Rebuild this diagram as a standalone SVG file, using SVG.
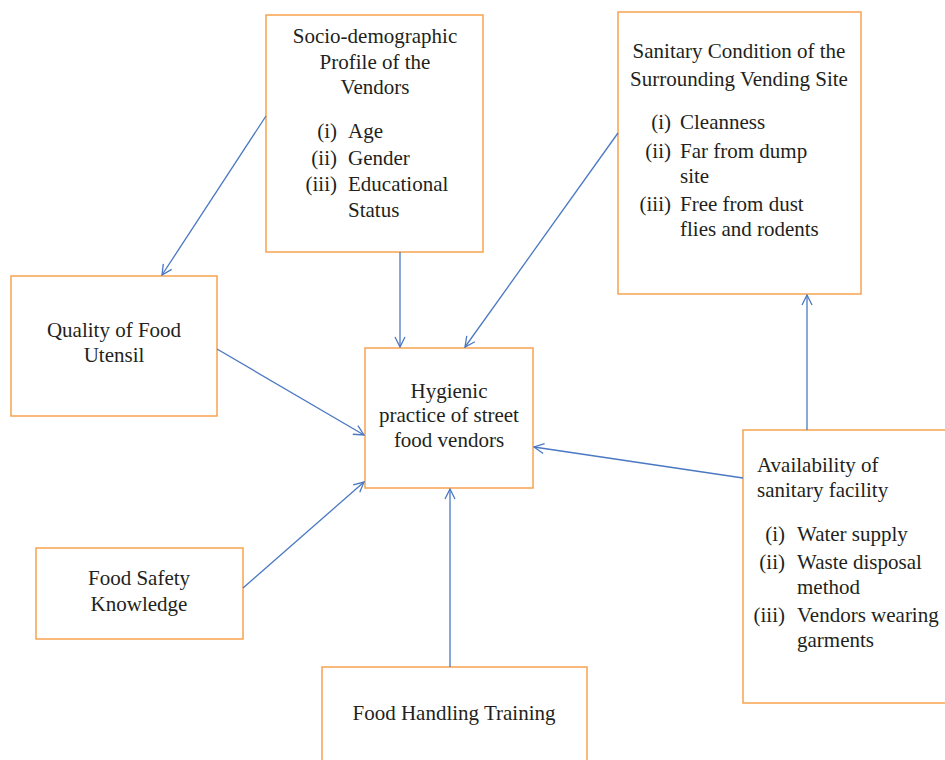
<svg xmlns="http://www.w3.org/2000/svg" width="945" height="760" viewBox="0 0 945 760">
<style>
.box{fill:#fff;stroke:#F7A350;stroke-width:1.5}
text{font-family:"Liberation Serif","DejaVu Serif",serif;font-size:21px;fill:#231f20}
.c{text-anchor:middle}
.r{text-anchor:end}
.con{stroke:#4A78C2;stroke-width:1.3;fill:none}
</style>
<defs>
<marker id="ah" viewBox="0 0 12 12" refX="11" refY="6" markerWidth="12" markerHeight="12" markerUnits="userSpaceOnUse" orient="auto">
<path d="M1,1 L11,6 L1,11" fill="none" stroke="#4A78C2" stroke-width="1.3"/>
</marker>
</defs>
<rect width="945" height="760" fill="#fff"/>
<g id="socio">
<rect class="box" x="266" y="15" width="217" height="237"/>
<text class="c" x="375" y="43">Socio-demographic</text>
<text class="c" x="375" y="69">Profile of the</text>
<text class="c" x="375" y="94">Vendors</text>
<text class="r" x="337" y="138">(i)</text><text x="348" y="138">Age</text>
<text class="r" x="337" y="165">(ii)</text><text x="348" y="165">Gender</text>
<text class="r" x="337" y="191">(iii)</text><text x="348" y="191">Educational</text>
<text x="348" y="217">Status</text>
</g>
<g id="sanitary">
<rect class="box" x="618" y="12" width="243" height="282"/>
<text class="c" x="739" y="58">Sanitary Condition of the</text>
<text class="c" x="739" y="86">Surrounding Vending Site</text>
<text class="r" x="671" y="129">(i)</text><text x="680" y="129">Cleanness</text>
<text class="r" x="671" y="158">(ii)</text><text x="680" y="158">Far from dump</text>
<text x="680" y="183">site</text>
<text class="r" x="671" y="211">(iii)</text><text x="680" y="211">Free from dust</text>
<text x="680" y="236">flies and rodents</text>
</g>
<g id="quality">
<rect class="box" x="11" y="276" width="206" height="140"/>
<text class="c" x="114" y="337">Quality of Food</text>
<text class="c" x="114" y="362">Utensil</text>
</g>
<g id="hygienic">
<rect class="box" x="365" y="348" width="168" height="140"/>
<text class="c" x="449" y="398">Hygienic</text>
<text class="c" x="449" y="422">practice of street</text>
<text class="c" x="449" y="447">food vendors</text>
</g>
<g id="safety">
<rect class="box" x="36" y="548" width="207" height="91"/>
<text class="c" x="139" y="585">Food Safety</text>
<text class="c" x="139" y="611">Knowledge</text>
</g>
<g id="handling">
<rect class="box" x="322" y="667" width="265" height="100"/>
<text class="c" x="454" y="720">Food Handling Training</text>
</g>
<g id="availability">
<rect class="box" x="743" y="430" width="210" height="273"/>
<text x="757" y="472">Availability of</text>
<text x="757" y="497">sanitary facility</text>
<text class="r" x="785" y="541">(i)</text><text x="797" y="541">Water supply</text>
<text class="r" x="785" y="569">(ii)</text><text x="797" y="569">Waste disposal</text>
<text x="797" y="594">method</text>
<text class="r" x="785" y="622">(iii)</text><text x="797" y="622">Vendors wearing</text>
<text x="797" y="647">garments</text>
</g>
<g id="connectors">
<line class="con" x1="266" y1="116" x2="162" y2="275" marker-end="url(#ah)"/>
<line class="con" x1="400" y1="252" x2="400" y2="347" marker-end="url(#ah)"/>
<line class="con" x1="618" y1="133" x2="465" y2="347" marker-end="url(#ah)"/>
<line class="con" x1="217" y1="349" x2="364" y2="435" marker-end="url(#ah)"/>
<line class="con" x1="243" y1="588" x2="364" y2="482" marker-end="url(#ah)"/>
<line class="con" x1="450" y1="667" x2="450" y2="489" marker-end="url(#ah)"/>
<line class="con" x1="743" y1="478" x2="534" y2="447" marker-end="url(#ah)"/>
<line class="con" x1="807" y1="430" x2="807" y2="295" marker-end="url(#ah)"/>
</g>
</svg>
